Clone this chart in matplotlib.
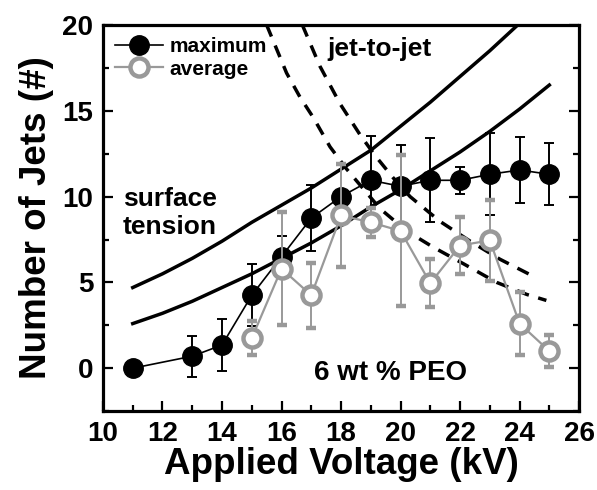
import matplotlib
matplotlib.use("Agg")
import matplotlib.pyplot as plt
from matplotlib.ticker import MultipleLocator

plt.rcParams['font.family'] = ['Liberation Sans', 'DejaVu Sans']

# --- data ---
voltage_max = [11, 13, 14, 15, 16, 17, 18, 19, 20, 21, 22, 23, 24, 25]
jets_max = [0.0, 0.7, 1.35, 4.25, 6.5, 8.75, 10.0, 10.95, 10.6, 10.95, 10.95, 11.3, 11.55, 11.3]
err_max = [0.0, 1.2, 1.5, 1.8, 1.2, 1.9, 0.3, 2.6, 2.4, 2.45, 0.8, 2.4, 1.9, 1.8]

voltage_avg = [15, 16, 17, 18, 19, 20, 21, 22, 23, 24, 25]
jets_avg = [1.75, 5.8, 4.25, 8.9, 8.5, 8.0, 4.95, 7.15, 7.45, 2.6, 1.0]
err_avg = [1.0, 3.3, 1.9, 3.0, 0.85, 4.4, 1.4, 1.65, 2.35, 1.85, 0.95]

# surface tension model curves (solid)
st_hi_x = [11, 12, 13, 14, 15, 16, 17, 18, 19, 20, 21, 22, 23, 24]
st_hi_y = [4.7, 5.5, 6.4, 7.4, 8.5, 9.5, 10.5, 11.6, 12.7, 14.1, 15.5, 17.0, 18.5, 20.1]
st_lo_x = [11, 12, 13, 14, 15, 16, 17, 18, 19, 20, 21, 22, 23, 24, 25]
st_lo_y = [2.6, 3.2, 3.9, 4.7, 5.5, 6.4, 7.3, 8.3, 9.4, 10.4, 11.5, 12.6, 13.8, 15.1, 16.5]

# jet-to-jet model curves (dashed)
jj_lo_x = [15.5, 16.17, 16.62, 17.07, 17.63, 18.19, 19.31, 20.2, 21.1, 22.1, 23.23, 24.24, 24.9]
jj_lo_y = [20.0, 17.2, 15.8, 14.6, 12.9, 11.6, 9.3, 8.0, 7.05, 6.1, 5.0, 4.3, 3.95]
jj_hi_x = [16.7, 17.29, 17.97, 18.64, 19.14, 19.75, 20.32, 21.33, 22.34, 23.34, 24.47]
jj_hi_y = [20.0, 17.6, 15.4, 13.6, 12.4, 11.1, 10.0, 8.55, 7.4, 6.35, 5.35]

x_ticks = [10, 12, 14, 16, 18, 20, 22, 24, 26]
y_ticks = [0, 5, 10, 15, 20]

# --- figure ---
fig = plt.figure(figsize=(5.97, 4.90), dpi=100)
ax = fig.add_axes([0.1725, 0.161, 0.7975, 0.788])

lw_curve = 2.5
ax.plot(st_hi_x, st_hi_y, color='black', lw=lw_curve, zorder=2)
ax.plot(st_lo_x, st_lo_y, color='black', lw=lw_curve, zorder=2)
ax.plot(jj_lo_x, jj_lo_y, color='black', lw=lw_curve, dashes=(3.6, 2.8), zorder=2)
ax.plot(jj_hi_x, jj_hi_y, color='black', lw=lw_curve, dashes=(3.6, 2.8), zorder=2)

gray = '#999999'
eb_max = ax.errorbar(voltage_max, jets_max, yerr=err_max, fmt='o', ls='-',
                     color='black', mfc='black', mec='black', ms=14, lw=1.2,
                     elinewidth=1.4, capsize=3.5, capthick=1.4, zorder=3,
                     label='maximum')
eb_avg = ax.errorbar(voltage_avg, jets_avg, yerr=err_avg, fmt='o', ls='-',
                     color=gray, mfc='white', mec=gray, mew=3.2, ms=13, lw=1.6,
                     elinewidth=1.4, capsize=3.5, capthick=1.4, zorder=4,
                     label='average')

ax.set_xlim(10, 26)
ax.set_ylim(-2.5, 20)
ax.set_xticks(x_ticks)
ax.set_yticks(y_ticks)
ax.xaxis.set_minor_locator(MultipleLocator(1))
ax.yaxis.set_minor_locator(MultipleLocator(2.5))
ax.tick_params(which='both', direction='in', top=False, right=True, width=1.6)
ax.tick_params(which='major', length=7, labelsize=20, pad=7)
ax.tick_params(which='minor', length=4.5)
for lab in ax.get_xticklabels() + ax.get_yticklabels():
    lab.set_fontweight('bold')
for s in ax.spines.values():
    s.set_linewidth(2.3)

ax.set_xlabel('Applied Voltage (kV)', fontsize=26.5, fontweight='bold', labelpad=0)
ax.set_ylabel('Number of Jets (#)', fontsize=26.5, fontweight='bold', labelpad=6)

leg = ax.legend(handles=[eb_max[0], eb_avg[0]], labels=['maximum', 'average'],
                loc='upper left', frameon=False,
                prop={'weight': 'bold', 'size': 15}, handlelength=2.3,
                handletextpad=0.3, labelspacing=0.15, borderaxespad=0.2,
                borderpad=0.4)

ax.text(17.53, 18.6, 'jet-to-jet', fontsize=19, fontweight='bold',
        ha='left', va='center')
ax.text(10.67, 9.05, 'surface\ntension', fontsize=19, fontweight='bold',
        ha='left', va='center', linespacing=1.25)
ax.text(19.65, -0.3, '6 wt % PEO', fontsize=20, fontweight='bold',
        ha='center', va='center')

fig.savefig('out.png', dpi=100)
